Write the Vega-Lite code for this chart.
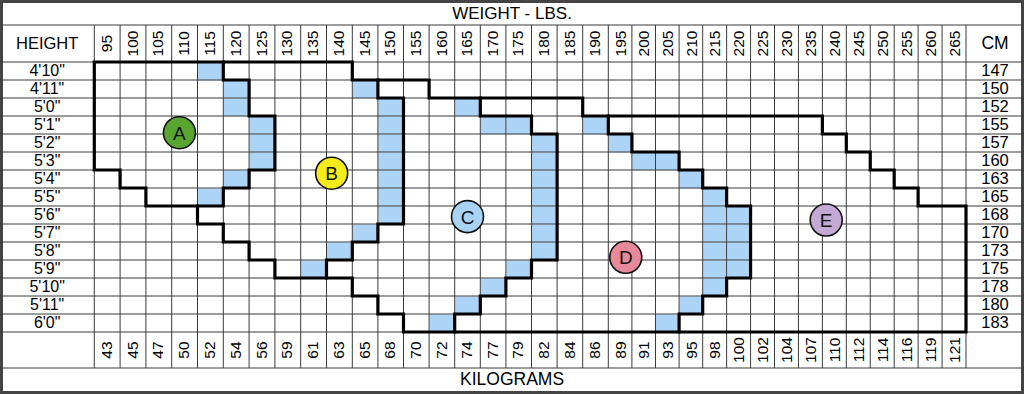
{
  "$schema": "https://vega.github.io/schema/vega-lite/v6.json",
  "width": 1024,
  "height": 394,
  "padding": 0,
  "autosize": "none",
  "background": "white",
  "config": {"view": {"stroke": "#444444", "strokeWidth": 6}, "font": "Liberation Sans"},
  "datasets": {
    "cols": [
      {"w": 95, "kg": 43}, {"w": 100, "kg": 45}, {"w": 105, "kg": 47}, {"w": 110, "kg": 50}, {"w": 115, "kg": 52},
      {"w": 120, "kg": 54}, {"w": 125, "kg": 56}, {"w": 130, "kg": 59}, {"w": 135, "kg": 61}, {"w": 140, "kg": 63},
      {"w": 145, "kg": 65}, {"w": 150, "kg": 68}, {"w": 155, "kg": 70}, {"w": 160, "kg": 72}, {"w": 165, "kg": 74},
      {"w": 170, "kg": 77}, {"w": 175, "kg": 79}, {"w": 180, "kg": 82}, {"w": 185, "kg": 84}, {"w": 190, "kg": 86},
      {"w": 195, "kg": 89}, {"w": 200, "kg": 91}, {"w": 205, "kg": 93}, {"w": 210, "kg": 95}, {"w": 215, "kg": 98},
      {"w": 220, "kg": 100}, {"w": 225, "kg": 102}, {"w": 230, "kg": 104}, {"w": 235, "kg": 107}, {"w": 240, "kg": 110},
      {"w": 245, "kg": 112}, {"w": 250, "kg": 114}, {"w": 255, "kg": 116}, {"w": 260, "kg": 119}, {"w": 265, "kg": 121}
    ],
    "heights": [
      {"h": 58, "label": "4'10\"", "cm": 147}, {"h": 59, "label": "4'11\"", "cm": 150}, {"h": 60, "label": "5'0\"", "cm": 152},
      {"h": 61, "label": "5'1\"", "cm": 155}, {"h": 62, "label": "5'2\"", "cm": 157}, {"h": 63, "label": "5'3\"", "cm": 160},
      {"h": 64, "label": "5'4\"", "cm": 163}, {"h": 65, "label": "5'5\"", "cm": 165}, {"h": 66, "label": "5'6\"", "cm": 168},
      {"h": 67, "label": "5'7\"", "cm": 170}, {"h": 68, "label": "5'8\"", "cm": 173}, {"h": 69, "label": "5'9\"", "cm": 175},
      {"h": 70, "label": "5'10\"", "cm": 178}, {"h": 71, "label": "5'11\"", "cm": 180}, {"h": 72, "label": "6'0\"", "cm": 183}
    ],
    "blue": [
      {"w": 115, "h": 58}, {"w": 120, "h": 59}, {"w": 120, "h": 60}, {"w": 125, "h": 61}, {"w": 125, "h": 62}, {"w": 125, "h": 63}, {"w": 120, "h": 64}, {"w": 115, "h": 65},
      {"w": 145, "h": 59}, {"w": 150, "h": 60}, {"w": 150, "h": 61}, {"w": 150, "h": 62}, {"w": 150, "h": 63}, {"w": 150, "h": 64}, {"w": 150, "h": 65}, {"w": 150, "h": 66}, {"w": 145, "h": 67}, {"w": 140, "h": 68}, {"w": 135, "h": 69},
      {"w": 165, "h": 60}, {"w": 170, "h": 61}, {"w": 175, "h": 61}, {"w": 180, "h": 62}, {"w": 180, "h": 63}, {"w": 180, "h": 64}, {"w": 180, "h": 65}, {"w": 180, "h": 66}, {"w": 180, "h": 67}, {"w": 180, "h": 68}, {"w": 175, "h": 69}, {"w": 170, "h": 70}, {"w": 165, "h": 71}, {"w": 160, "h": 72},
      {"w": 190, "h": 61}, {"w": 195, "h": 62}, {"w": 200, "h": 63}, {"w": 205, "h": 63}, {"w": 210, "h": 64}, {"w": 215, "h": 65}, {"w": 215, "h": 66}, {"w": 215, "h": 67}, {"w": 215, "h": 68}, {"w": 215, "h": 69}, {"w": 215, "h": 70}, {"w": 220, "h": 66}, {"w": 220, "h": 67}, {"w": 220, "h": 68}, {"w": 220, "h": 69}, {"w": 210, "h": 71}, {"w": 205, "h": 72}
    ],
    "paths": [
      {"p": "outer", "i": 0, "w": 95, "h": 58}, {"p": "outer", "i": 1, "w": 145, "h": 58}, {"p": "outer", "i": 2, "w": 145, "h": 59},
      {"p": "outer", "i": 3, "w": 160, "h": 59}, {"p": "outer", "i": 4, "w": 160, "h": 60}, {"p": "outer", "i": 5, "w": 190, "h": 60},
      {"p": "outer", "i": 6, "w": 190, "h": 61}, {"p": "outer", "i": 7, "w": 240, "h": 61}, {"p": "outer", "i": 8, "w": 240, "h": 62},
      {"p": "outer", "i": 9, "w": 245, "h": 62}, {"p": "outer", "i": 10, "w": 245, "h": 63}, {"p": "outer", "i": 11, "w": 250, "h": 63},
      {"p": "outer", "i": 12, "w": 250, "h": 64}, {"p": "outer", "i": 13, "w": 255, "h": 64}, {"p": "outer", "i": 14, "w": 255, "h": 65},
      {"p": "outer", "i": 15, "w": 260, "h": 65}, {"p": "outer", "i": 16, "w": 260, "h": 66}, {"p": "outer", "i": 17, "w": 270, "h": 66},
      {"p": "outer", "i": 18, "w": 270, "h": 73}, {"p": "outer", "i": 19, "w": 155, "h": 73}, {"p": "outer", "i": 20, "w": 155, "h": 72},
      {"p": "outer", "i": 21, "w": 150, "h": 72}, {"p": "outer", "i": 22, "w": 150, "h": 71}, {"p": "outer", "i": 23, "w": 145, "h": 71},
      {"p": "outer", "i": 24, "w": 145, "h": 70}, {"p": "outer", "i": 25, "w": 130, "h": 70}, {"p": "outer", "i": 26, "w": 130, "h": 69},
      {"p": "outer", "i": 27, "w": 125, "h": 69}, {"p": "outer", "i": 28, "w": 125, "h": 68}, {"p": "outer", "i": 29, "w": 120, "h": 68},
      {"p": "outer", "i": 30, "w": 120, "h": 67}, {"p": "outer", "i": 31, "w": 115, "h": 67}, {"p": "outer", "i": 32, "w": 115, "h": 66},
      {"p": "outer", "i": 33, "w": 105, "h": 66}, {"p": "outer", "i": 34, "w": 105, "h": 65}, {"p": "outer", "i": 35, "w": 100, "h": 65},
      {"p": "outer", "i": 36, "w": 100, "h": 64}, {"p": "outer", "i": 37, "w": 95, "h": 64}, {"p": "outer", "i": 38, "w": 95, "h": 58},
      {"p": "ab", "i": 0, "w": 120, "h": 58}, {"p": "ab", "i": 1, "w": 120, "h": 59}, {"p": "ab", "i": 2, "w": 125, "h": 59},
      {"p": "ab", "i": 3, "w": 125, "h": 61}, {"p": "ab", "i": 4, "w": 130, "h": 61}, {"p": "ab", "i": 5, "w": 130, "h": 64},
      {"p": "ab", "i": 6, "w": 125, "h": 64}, {"p": "ab", "i": 7, "w": 125, "h": 65}, {"p": "ab", "i": 8, "w": 120, "h": 65},
      {"p": "ab", "i": 9, "w": 120, "h": 66}, {"p": "ab", "i": 10, "w": 115, "h": 66},
      {"p": "bc", "i": 0, "w": 150, "h": 59}, {"p": "bc", "i": 1, "w": 150, "h": 60}, {"p": "bc", "i": 2, "w": 155, "h": 60},
      {"p": "bc", "i": 3, "w": 155, "h": 67}, {"p": "bc", "i": 4, "w": 150, "h": 67}, {"p": "bc", "i": 5, "w": 150, "h": 68},
      {"p": "bc", "i": 6, "w": 145, "h": 68}, {"p": "bc", "i": 7, "w": 145, "h": 69}, {"p": "bc", "i": 8, "w": 140, "h": 69},
      {"p": "bc", "i": 9, "w": 140, "h": 70},
      {"p": "cd", "i": 0, "w": 170, "h": 60}, {"p": "cd", "i": 1, "w": 170, "h": 61}, {"p": "cd", "i": 2, "w": 180, "h": 61},
      {"p": "cd", "i": 3, "w": 180, "h": 62}, {"p": "cd", "i": 4, "w": 185, "h": 62}, {"p": "cd", "i": 5, "w": 185, "h": 69},
      {"p": "cd", "i": 6, "w": 180, "h": 69}, {"p": "cd", "i": 7, "w": 180, "h": 70}, {"p": "cd", "i": 8, "w": 175, "h": 70},
      {"p": "cd", "i": 9, "w": 175, "h": 71}, {"p": "cd", "i": 10, "w": 170, "h": 71}, {"p": "cd", "i": 11, "w": 170, "h": 72},
      {"p": "cd", "i": 12, "w": 165, "h": 72}, {"p": "cd", "i": 13, "w": 165, "h": 73},
      {"p": "de", "i": 0, "w": 195, "h": 61}, {"p": "de", "i": 1, "w": 195, "h": 62}, {"p": "de", "i": 2, "w": 200, "h": 62},
      {"p": "de", "i": 3, "w": 200, "h": 63}, {"p": "de", "i": 4, "w": 210, "h": 63}, {"p": "de", "i": 5, "w": 210, "h": 64},
      {"p": "de", "i": 6, "w": 215, "h": 64}, {"p": "de", "i": 7, "w": 215, "h": 65}, {"p": "de", "i": 8, "w": 220, "h": 65},
      {"p": "de", "i": 9, "w": 220, "h": 66}, {"p": "de", "i": 10, "w": 225, "h": 66}, {"p": "de", "i": 11, "w": 225, "h": 70},
      {"p": "de", "i": 12, "w": 220, "h": 70}, {"p": "de", "i": 13, "w": 220, "h": 71}, {"p": "de", "i": 14, "w": 215, "h": 71},
      {"p": "de", "i": 15, "w": 215, "h": 72}, {"p": "de", "i": 16, "w": 210, "h": 72}, {"p": "de", "i": 17, "w": 210, "h": 73}
    ],
    "zones": [
      {"zone": "A", "w": 111.5, "h": 61.93},
      {"zone": "B", "w": 141.0, "h": 64.18},
      {"zone": "C", "w": 167.5, "h": 66.59},
      {"zone": "D", "w": 198.7, "h": 68.85},
      {"zone": "E", "w": 240.8, "h": 66.78}
    ]
  },
  "layer": [
    {
      "data": {"name": "blue"},
      "mark": {"type": "rect", "color": "#acd4f6", "binSpacing": 0},
      "encoding": {
        "x": {"field": "w", "type": "quantitative", "bin": {"binned": true, "step": 5}, "axis": null,
              "scale": {"type": "linear", "domain": [90, 95, 145, 195, 215, 270, 275], "range": [0, 94.3, 352.3, 608.3, 702.7, 966, 1024], "zero": false, "nice": false}},
        "y": {"field": "h", "type": "quantitative", "bin": {"binned": true, "step": 1}, "axis": null,
              "scale": {"type": "linear", "domain": [56, 57, 58, 73, 74, 75], "range": [2, 25, 62, 332, 368, 392], "zero": false, "nice": false}}
      }
    },
    {
      "data": {"name": "heights"},
      "mark": {"type": "rule", "color": "#3a3a3a", "strokeWidth": 1},
      "encoding": {
        "y": {"field": "h", "type": "quantitative", "axis": null,
              "scale": {"type": "linear", "domain": [56, 57, 58, 73, 74, 75], "range": [2, 25, 62, 332, 368, 392], "zero": false, "nice": false}}
      }
    },
    {
      "data": {"values": [{}]},
      "mark": {"type": "rule", "color": "#3a3a3a", "strokeWidth": 1},
      "encoding": {"y": {"datum": 57, "type": "quantitative", "axis": null,
              "scale": {"type": "linear", "domain": [56, 57, 58, 73, 74, 75], "range": [2, 25, 62, 332, 368, 392], "zero": false, "nice": false}}}
    },
    {
      "data": {"values": [{}]},
      "mark": {"type": "rule", "color": "#3a3a3a", "strokeWidth": 1},
      "encoding": {"y": {"datum": 73, "type": "quantitative", "axis": null,
              "scale": {"type": "linear", "domain": [56, 57, 58, 73, 74, 75], "range": [2, 25, 62, 332, 368, 392], "zero": false, "nice": false}}}
    },
    {
      "data": {"values": [{}]},
      "mark": {"type": "rule", "color": "#3a3a3a", "strokeWidth": 1},
      "encoding": {"y": {"datum": 74, "type": "quantitative", "axis": null,
              "scale": {"type": "linear", "domain": [56, 57, 58, 73, 74, 75], "range": [2, 25, 62, 332, 368, 392], "zero": false, "nice": false}}}
    },
    {
      "data": {"name": "cols"},
      "mark": {"type": "rule", "color": "#3a3a3a", "strokeWidth": 1},
      "encoding": {
        "x": {"field": "w", "type": "quantitative", "axis": null,
              "scale": {"type": "linear", "domain": [90, 95, 145, 195, 215, 270, 275], "range": [0, 94.3, 352.3, 608.3, 702.7, 966, 1024], "zero": false, "nice": false}},
        "y": {"datum": 57, "type": "quantitative", "axis": null,
              "scale": {"type": "linear", "domain": [56, 57, 58, 73, 74, 75], "range": [2, 25, 62, 332, 368, 392], "zero": false, "nice": false}},
        "y2": {"datum": 74}
      }
    },
    {
      "data": {"values": [{}]},
      "mark": {"type": "rule", "color": "#3a3a3a", "strokeWidth": 1},
      "encoding": {
        "x": {"datum": 270, "type": "quantitative", "axis": null,
              "scale": {"type": "linear", "domain": [90, 95, 145, 195, 215, 270, 275], "range": [0, 94.3, 352.3, 608.3, 702.7, 966, 1024], "zero": false, "nice": false}},
        "y": {"datum": 57, "type": "quantitative", "axis": null,
              "scale": {"type": "linear", "domain": [56, 57, 58, 73, 74, 75], "range": [2, 25, 62, 332, 368, 392], "zero": false, "nice": false}},
        "y2": {"datum": 74}
      }
    },
    {
      "data": {"name": "paths"},
      "mark": {"type": "line", "color": "#000000", "strokeWidth": 3.2, "strokeJoin": "miter", "strokeCap": "square"},
      "encoding": {
        "x": {"field": "w", "type": "quantitative", "axis": null,
              "scale": {"type": "linear", "domain": [90, 95, 145, 195, 215, 270, 275], "range": [0, 94.3, 352.3, 608.3, 702.7, 966, 1024], "zero": false, "nice": false}},
        "y": {"field": "h", "type": "quantitative", "axis": null,
              "scale": {"type": "linear", "domain": [56, 57, 58, 73, 74, 75], "range": [2, 25, 62, 332, 368, 392], "zero": false, "nice": false}},
        "detail": {"field": "p", "type": "nominal"},
        "order": {"field": "i", "type": "quantitative"}
      }
    },
    {
      "data": {"name": "zones"},
      "mark": {"type": "point", "shape": "circle", "filled": true, "size": 1024, "stroke": "#111111", "strokeWidth": 1.6, "opacity": 1},
      "encoding": {
        "x": {"field": "w", "type": "quantitative", "axis": null,
              "scale": {"type": "linear", "domain": [90, 95, 145, 195, 215, 270, 275], "range": [0, 94.3, 352.3, 608.3, 702.7, 966, 1024], "zero": false, "nice": false}},
        "y": {"field": "h", "type": "quantitative", "axis": null,
              "scale": {"type": "linear", "domain": [56, 57, 58, 73, 74, 75], "range": [2, 25, 62, 332, 368, 392], "zero": false, "nice": false}},
        "color": {"field": "zone", "type": "nominal", "legend": null,
                  "scale": {"domain": ["A", "B", "C", "D", "E"], "range": ["#58a631", "#f6ec1a", "#a9d3f5", "#e8889b", "#c4a9d5"]}}
      }
    },
    {
      "data": {"name": "zones"},
      "mark": {"type": "text", "fontSize": 19, "align": "center", "baseline": "middle", "color": "#111111", "dy": 1},
      "encoding": {
        "x": {"field": "w", "type": "quantitative", "axis": null,
              "scale": {"type": "linear", "domain": [90, 95, 145, 195, 215, 270, 275], "range": [0, 94.3, 352.3, 608.3, 702.7, 966, 1024], "zero": false, "nice": false}},
        "y": {"field": "h", "type": "quantitative", "axis": null,
              "scale": {"type": "linear", "domain": [56, 57, 58, 73, 74, 75], "range": [2, 25, 62, 332, 368, 392], "zero": false, "nice": false}},
        "text": {"field": "zone"}
      }
    },
    {
      "data": {"name": "cols"},
      "mark": {"type": "text", "fontSize": 15.5, "angle": 270, "align": "center", "baseline": "middle", "dy": 12.5, "color": "#000000"},
      "encoding": {
        "x": {"field": "w", "type": "quantitative", "axis": null,
              "scale": {"type": "linear", "domain": [90, 95, 145, 195, 215, 270, 275], "range": [0, 94.3, 352.3, 608.3, 702.7, 966, 1024], "zero": false, "nice": false}},
        "y": {"datum": 57.5, "type": "quantitative", "axis": null,
              "scale": {"type": "linear", "domain": [56, 57, 58, 73, 74, 75], "range": [2, 25, 62, 332, 368, 392], "zero": false, "nice": false}},
        "text": {"field": "w"}
      }
    },
    {
      "data": {"name": "cols"},
      "mark": {"type": "text", "fontSize": 15.5, "angle": 270, "align": "center", "baseline": "middle", "dy": 12.5, "color": "#000000"},
      "encoding": {
        "x": {"field": "w", "type": "quantitative", "axis": null,
              "scale": {"type": "linear", "domain": [90, 95, 145, 195, 215, 270, 275], "range": [0, 94.3, 352.3, 608.3, 702.7, 966, 1024], "zero": false, "nice": false}},
        "y": {"datum": 73.5, "type": "quantitative", "axis": null,
              "scale": {"type": "linear", "domain": [56, 57, 58, 73, 74, 75], "range": [2, 25, 62, 332, 368, 392], "zero": false, "nice": false}},
        "text": {"field": "kg"}
      }
    },
    {
      "data": {"name": "heights"},
      "mark": {"type": "text", "fontSize": 16, "align": "center", "baseline": "middle", "dy": 9, "color": "#000000"},
      "encoding": {
        "x": {"datum": 92.5, "type": "quantitative", "axis": null,
              "scale": {"type": "linear", "domain": [90, 95, 145, 195, 215, 270, 275], "range": [0, 94.3, 352.3, 608.3, 702.7, 966, 1024], "zero": false, "nice": false}},
        "y": {"field": "h", "type": "quantitative", "axis": null,
              "scale": {"type": "linear", "domain": [56, 57, 58, 73, 74, 75], "range": [2, 25, 62, 332, 368, 392], "zero": false, "nice": false}},
        "text": {"field": "label"}
      }
    },
    {
      "data": {"name": "heights"},
      "mark": {"type": "text", "fontSize": 16.5, "align": "center", "baseline": "middle", "dy": 9, "color": "#000000"},
      "encoding": {
        "x": {"datum": 272.5, "type": "quantitative", "axis": null,
              "scale": {"type": "linear", "domain": [90, 95, 145, 195, 215, 270, 275], "range": [0, 94.3, 352.3, 608.3, 702.7, 966, 1024], "zero": false, "nice": false}},
        "y": {"field": "h", "type": "quantitative", "axis": null,
              "scale": {"type": "linear", "domain": [56, 57, 58, 73, 74, 75], "range": [2, 25, 62, 332, 368, 392], "zero": false, "nice": false}},
        "text": {"field": "cm"}
      }
    },
    {
      "data": {"values": [{}]},
      "mark": {"type": "text", "text": "HEIGHT", "fontSize": 16.5, "align": "center", "baseline": "middle", "color": "#000000"},
      "encoding": {
        "x": {"datum": 92.5, "type": "quantitative", "axis": null,
              "scale": {"type": "linear", "domain": [90, 95, 145, 195, 215, 270, 275], "range": [0, 94.3, 352.3, 608.3, 702.7, 966, 1024], "zero": false, "nice": false}},
        "y": {"datum": 57.5, "type": "quantitative", "axis": null,
              "scale": {"type": "linear", "domain": [56, 57, 58, 73, 74, 75], "range": [2, 25, 62, 332, 368, 392], "zero": false, "nice": false}}
      }
    },
    {
      "data": {"values": [{}]},
      "mark": {"type": "text", "text": "CM", "fontSize": 17.5, "align": "center", "baseline": "middle", "color": "#000000"},
      "encoding": {
        "x": {"datum": 272.5, "type": "quantitative", "axis": null,
              "scale": {"type": "linear", "domain": [90, 95, 145, 195, 215, 270, 275], "range": [0, 94.3, 352.3, 608.3, 702.7, 966, 1024], "zero": false, "nice": false}},
        "y": {"datum": 57.5, "type": "quantitative", "axis": null,
              "scale": {"type": "linear", "domain": [56, 57, 58, 73, 74, 75], "range": [2, 25, 62, 332, 368, 392], "zero": false, "nice": false}}
      }
    },
    {
      "data": {"values": [{}]},
      "mark": {"type": "text", "text": "WEIGHT - LBS.", "fontSize": 17, "align": "center", "baseline": "middle", "color": "#000000"},
      "encoding": {
        "x": {"datum": 176.2, "type": "quantitative", "axis": null,
              "scale": {"type": "linear", "domain": [90, 95, 145, 195, 215, 270, 275], "range": [0, 94.3, 352.3, 608.3, 702.7, 966, 1024], "zero": false, "nice": false}},
        "y": {"datum": 56.5, "type": "quantitative", "axis": null,
              "scale": {"type": "linear", "domain": [56, 57, 58, 73, 74, 75], "range": [2, 25, 62, 332, 368, 392], "zero": false, "nice": false}}
      }
    },
    {
      "data": {"values": [{}]},
      "mark": {"type": "text", "text": "KILOGRAMS", "fontSize": 17.5, "align": "center", "baseline": "middle", "color": "#000000"},
      "encoding": {
        "x": {"datum": 176.2, "type": "quantitative", "axis": null,
              "scale": {"type": "linear", "domain": [90, 95, 145, 195, 215, 270, 275], "range": [0, 94.3, 352.3, 608.3, 702.7, 966, 1024], "zero": false, "nice": false}},
        "y": {"datum": 74.5, "type": "quantitative", "axis": null,
              "scale": {"type": "linear", "domain": [56, 57, 58, 73, 74, 75], "range": [2, 25, 62, 332, 368, 392], "zero": false, "nice": false}}
      }
    }
  ]
}
